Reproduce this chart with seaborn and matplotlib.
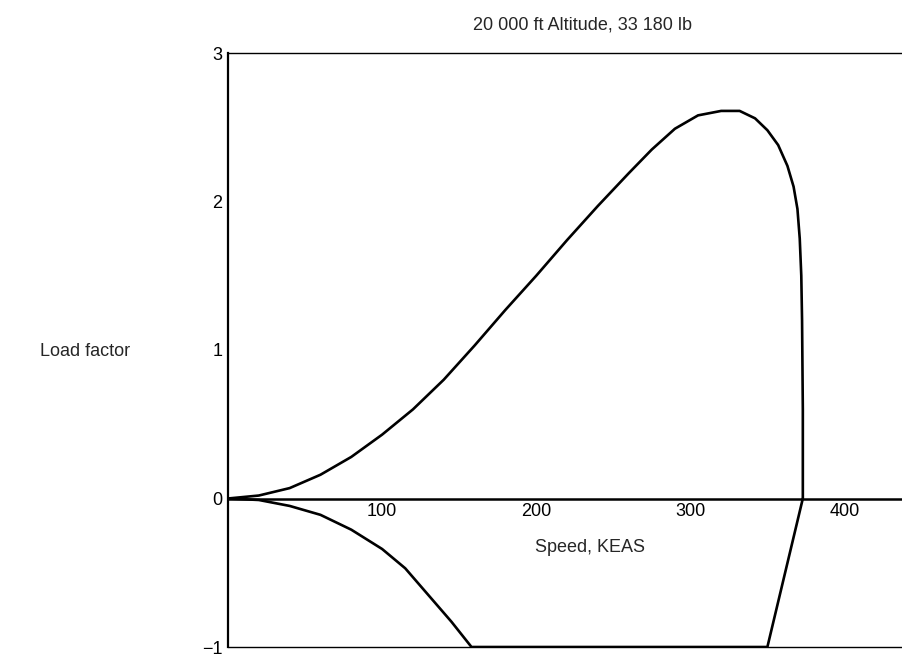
import seaborn as sns
import matplotlib.pyplot as plt
import pandas as pd

# Upper boundary: positive lift limit, then the vertical speed limit
upper_speed = [0, 20, 40, 60, 80, 100, 120, 140, 160, 180, 200, 220, 240,
               260, 275, 290, 305, 320, 332, 342, 350, 357, 363, 367, 369.5,
               371, 372, 372.5, 373, 373]
upper_load = [0, 0.02, 0.07, 0.16, 0.28, 0.43, 0.6, 0.8, 1.03, 1.27, 1.5,
              1.74, 1.97, 2.19, 2.35, 2.49, 2.58, 2.61, 2.61, 2.56, 2.48,
              2.38, 2.24, 2.1, 1.95, 1.75, 1.5, 1.2, 0.6, 0]

# Lower boundary: negative lift limit, -1 g line, back up to the speed limit
lower_speed = [0, 20, 40, 60, 80, 100, 115, 130, 145, 158, 350, 373]
lower_load = [0, -0.01, -0.05, -0.11, -0.21, -0.34, -0.47, -0.65, -0.83,
              -1, -1, 0]

x_ticks = [100, 200, 300, 400]
y_ticks = [-1, 0, 1, 2, 3]

sns.set_style("white")
plt.rcParams['font.family'] = ['Liberation Sans', 'DejaVu Sans']

upper = pd.DataFrame({'speed': upper_speed, 'load': upper_load})
lower = pd.DataFrame({'speed': lower_speed, 'load': lower_load})

fig = plt.figure(figsize=(9.03, 6.58), dpi=100)
ax = fig.add_axes([228 / 903, 11 / 658, 1 - 228 / 903, 594 / 658])

# estimator=None keeps the repeated speed at the vertical limit as drawn
sns.lineplot(data=upper, x='speed', y='load', sort=False, estimator=None,
             color='black', linewidth=1.9, ax=ax)
sns.lineplot(data=lower, x='speed', y='load', sort=False, estimator=None,
             color='black', linewidth=1.9, ax=ax)

ax.set_xlim(0, 438)
ax.set_ylim(-1, 3)

# frame: left axis, thin top and bottom rules, x axis through zero
ax.spines['right'].set_visible(False)
ax.spines['left'].set_linewidth(1.6)
ax.spines['top'].set_linewidth(1.0)
ax.spines['bottom'].set_position(('data', 0))
ax.spines['bottom'].set_linewidth(1.8)
for s in ax.spines.values():
    s.set_color('black')
ax.axhline(-1, color='black', linewidth=1.0, clip_on=False)

ax.set_xticks(x_ticks)
ax.set_yticks(y_ticks)
ax.set_yticklabels(['\u22121', '0', '1', '2', '3'])
ax.tick_params(axis='x', direction='in', length=10, width=1.3, pad=3,
               labelsize=13, colors='black')
ax.tick_params(axis='y', direction='in', length=8, width=1.2, pad=4,
               labelsize=13, colors='black')

ax.set_xlabel('')
ax.set_ylabel('')
ax.text(235, -0.33, 'Speed, KEAS', ha='center', va='center', fontsize=13)
fig.text(40 / 903, 1 - 352 / 658, 'Load factor', ha='left', va='center',
         fontsize=13)
fig.text(0.645, 1 - 25 / 658, '20 000 ft Altitude, 33 180 lb', ha='center',
         va='center', fontsize=13)

fig.savefig('out.png', dpi=100)
